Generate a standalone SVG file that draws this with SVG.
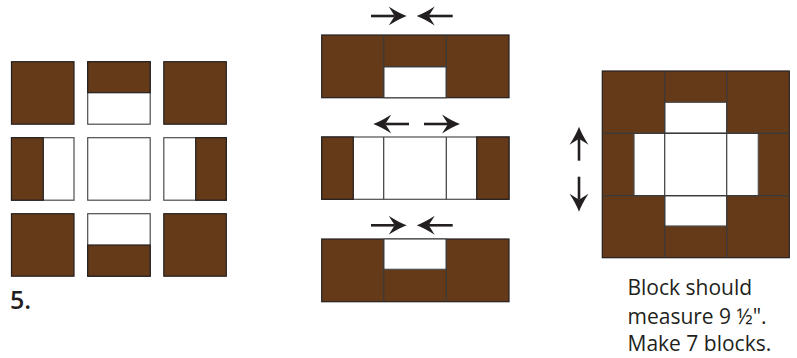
<svg xmlns="http://www.w3.org/2000/svg" width="797" height="358" viewBox="0 0 797 358">
<style>
.b{fill:#643a19;stroke:#231f20;stroke-width:1.2}
.w{fill:#ffffff;stroke:#4d4d4d;stroke-width:1.2}
.d{stroke:#3a3a3a;stroke-width:1.2;fill:none}
.a{stroke:#231f20;stroke-width:2.6;fill:none;marker-end:url(#ah)}
.t{font-family:"Open Sans","Noto Sans","Liberation Sans",sans-serif;fill:#231f20}
</style>
<defs>
<marker id="ah" markerUnits="userSpaceOnUse" viewBox="0 -10 19 20" markerWidth="19" markerHeight="20" refX="6" refY="0" orient="auto">
<path d="M18,0 Q10,-3 0,-9.5 L6,0 L0,9.5 Q10,3 18,0 Z" fill="#231f20"/>
</marker>
</defs>
<rect width="797" height="358" fill="#ffffff"/>

<g id="step5-pieces">
<g id="p-tl"><rect class="b" x="11.5" y="61.7" width="62.5" height="62.5"/></g>
<g id="p-tm"><rect class="w" x="87.7" y="61.7" width="62.5" height="62.5"/><rect class="b" x="87.7" y="61.7" width="62.5" height="31"/></g>
<g id="p-tr"><rect class="b" x="163.8" y="61.7" width="62.5" height="62.5"/></g>
<g id="p-ml"><rect class="w" x="11.5" y="137.7" width="62.5" height="62.5"/><rect class="b" x="11.5" y="137.7" width="31.8" height="62.5"/></g>
<g id="p-mm"><rect class="w" x="87.7" y="137.7" width="62.5" height="62.5"/></g>
<g id="p-mr"><rect class="w" x="163.8" y="137.7" width="62.5" height="62.5"/><rect class="b" x="195.7" y="137.7" width="30.6" height="62.5"/></g>
<g id="p-bl"><rect class="b" x="11.5" y="213.7" width="62.5" height="62.5"/></g>
<g id="p-bm"><rect class="w" x="87.7" y="213.7" width="62.5" height="62.5"/><rect class="b" x="87.7" y="245" width="62.5" height="31.2"/></g>
<g id="p-br"><rect class="b" x="163.8" y="213.7" width="62.5" height="62.5"/></g>
<text id="label-5" class="t" x="10" y="308.5" font-size="25" font-weight="600">5.</text>
</g>

<g id="rows">
<g id="row-top">
<rect class="b" x="321.7" y="35" width="187.3" height="62.7"/>
<rect class="w" x="383.7" y="66.7" width="62.6" height="31"/>
<line class="d" x1="383.7" y1="35" x2="383.7" y2="97.7"/>
<line class="d" x1="446.3" y1="35" x2="446.3" y2="97.7"/>
<line class="d" x1="383.7" y1="66.7" x2="446.3" y2="66.7"/>
</g>
<g id="row-middle">
<rect class="w" x="321.7" y="137" width="187.3" height="62.3"/>
<rect class="b" x="321.7" y="137" width="31.6" height="62.3"/>
<rect class="b" x="476.7" y="137" width="32.3" height="62.3"/>
<line class="d" x1="383.7" y1="137" x2="383.7" y2="199.3"/>
<line class="d" x1="446.3" y1="137" x2="446.3" y2="199.3"/>
</g>
<g id="row-bottom">
<rect class="b" x="321.7" y="239" width="187.3" height="62.7"/>
<rect class="w" x="383.7" y="239" width="62.6" height="30.3"/>
<line class="d" x1="383.7" y1="239" x2="383.7" y2="301.7"/>
<line class="d" x1="446.3" y1="239" x2="446.3" y2="301.7"/>
</g>
</g>

<g id="block">
<rect class="b" x="602.3" y="71" width="187" height="186.7"/>
<rect class="w" x="664.7" y="102.3" width="62" height="31"/>
<rect class="w" x="634" y="133.3" width="124.3" height="62.4"/>
<rect class="w" x="664.7" y="195.7" width="62" height="30.3"/>
<line class="d" x1="664.7" y1="71" x2="664.7" y2="257.7"/>
<line class="d" x1="726.7" y1="71" x2="726.7" y2="257.7"/>
<line class="d" x1="602.3" y1="133.3" x2="789.3" y2="133.3"/>
<line class="d" x1="602.3" y1="195.7" x2="789.3" y2="195.7"/>
<text class="t" font-size="21"><tspan x="627.5" y="295">Block should</tspan><tspan x="627.5" y="324">measure 9 ½".</tspan><tspan x="627.5" y="351">Make 7 blocks.</tspan></text>
</g>

<g id="connectors">
<line class="a" x1="371" y1="16" x2="394.7" y2="16"/>
<line class="a" x1="452.7" y1="16" x2="428.7" y2="16"/>
<line class="a" x1="409" y1="124" x2="385.3" y2="124"/>
<line class="a" x1="424" y1="124" x2="448" y2="124"/>
<line class="a" x1="371" y1="225.3" x2="394.7" y2="225.3"/>
<line class="a" x1="452.7" y1="225.3" x2="428.7" y2="225.3"/>
<line class="a" x1="579" y1="160.7" x2="579" y2="138.7"/>
<line class="a" x1="579" y1="176.7" x2="579" y2="199.7"/>
</g>
</svg>
